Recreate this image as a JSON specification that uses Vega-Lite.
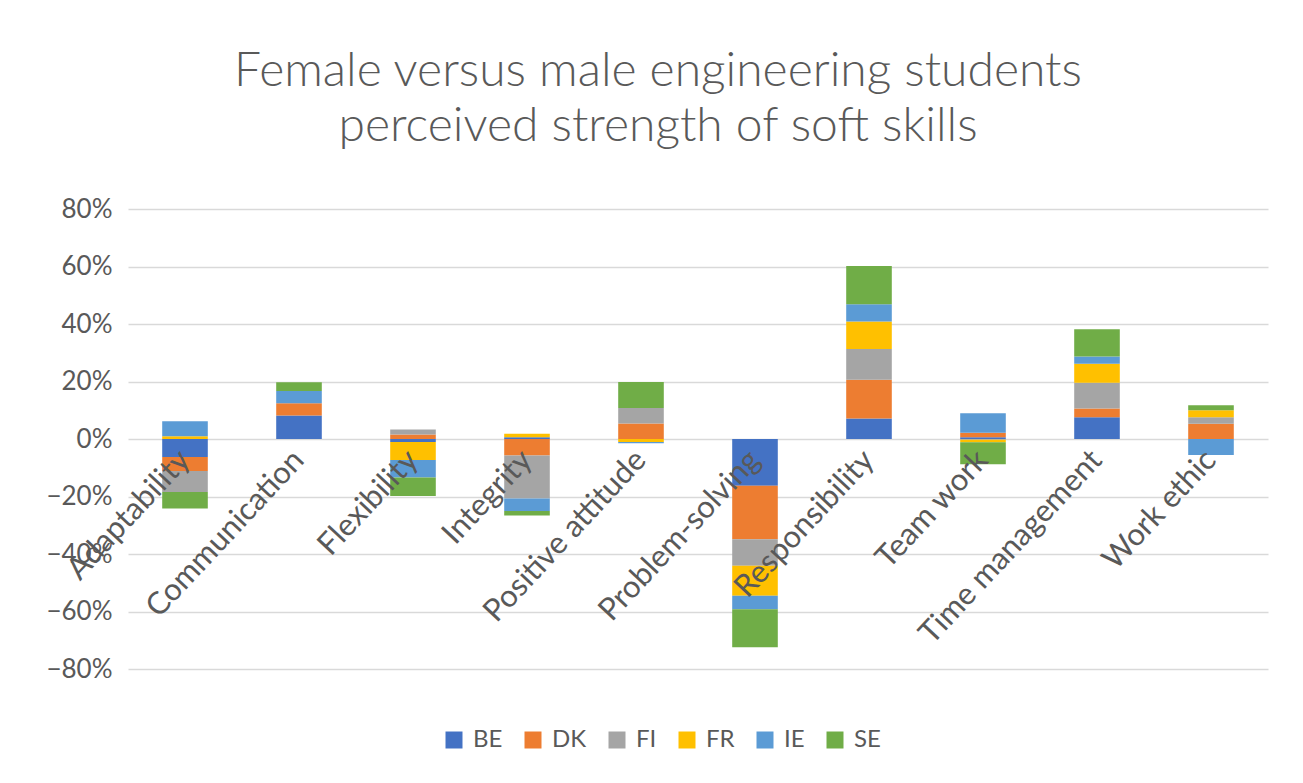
{
  "$schema": "https://vega.github.io/schema/vega-lite/v6.json",
  "autosize": "none",
  "width": 1140,
  "height": 460,
  "padding": {"left": 128, "top": 209, "right": 35, "bottom": 114},
  "background": "white",
  "title": {
    "text": ["Female versus male engineering students", "perceived strength of soft skills"],
    "font": "Lato",
    "fontSize": 48,
    "fontWeight": 300,
    "color": "#595959",
    "lineHeight": 55,
    "anchor": "middle",
    "dx": -40,
    "offset": 45
  },
  "data": {
    "values": [
      {"skill": "Adaptability", "country": "BE", "value": -0.063},
      {"skill": "Adaptability", "country": "DK", "value": -0.048},
      {"skill": "Adaptability", "country": "FI", "value": -0.073},
      {"skill": "Adaptability", "country": "FR", "value": 0.010},
      {"skill": "Adaptability", "country": "IE", "value": 0.052},
      {"skill": "Adaptability", "country": "SE", "value": -0.058},
      {"skill": "Communication", "country": "BE", "value": 0.082},
      {"skill": "Communication", "country": "DK", "value": 0.042},
      {"skill": "Communication", "country": "IE", "value": 0.043},
      {"skill": "Communication", "country": "SE", "value": 0.030},
      {"skill": "Flexibility", "country": "BE", "value": -0.010},
      {"skill": "Flexibility", "country": "DK", "value": 0.016},
      {"skill": "Flexibility", "country": "FI", "value": 0.017},
      {"skill": "Flexibility", "country": "FR", "value": -0.063},
      {"skill": "Flexibility", "country": "IE", "value": -0.061},
      {"skill": "Flexibility", "country": "SE", "value": -0.064},
      {"skill": "Integrity", "country": "BE", "value": 0.006},
      {"skill": "Integrity", "country": "DK", "value": -0.057},
      {"skill": "Integrity", "country": "FI", "value": -0.150},
      {"skill": "Integrity", "country": "FR", "value": 0.012},
      {"skill": "Integrity", "country": "IE", "value": -0.043},
      {"skill": "Integrity", "country": "SE", "value": -0.016},
      {"skill": "Positive attitude", "country": "DK", "value": 0.054},
      {"skill": "Positive attitude", "country": "FI", "value": 0.054},
      {"skill": "Positive attitude", "country": "FR", "value": -0.010},
      {"skill": "Positive attitude", "country": "IE", "value": -0.005},
      {"skill": "Positive attitude", "country": "SE", "value": 0.090},
      {"skill": "Problem-solving", "country": "BE", "value": -0.163},
      {"skill": "Problem-solving", "country": "DK", "value": -0.186},
      {"skill": "Problem-solving", "country": "FI", "value": -0.092},
      {"skill": "Problem-solving", "country": "FR", "value": -0.104},
      {"skill": "Problem-solving", "country": "IE", "value": -0.047},
      {"skill": "Problem-solving", "country": "SE", "value": -0.132},
      {"skill": "Responsibility", "country": "BE", "value": 0.071},
      {"skill": "Responsibility", "country": "DK", "value": 0.135},
      {"skill": "Responsibility", "country": "FI", "value": 0.107},
      {"skill": "Responsibility", "country": "FR", "value": 0.096},
      {"skill": "Responsibility", "country": "IE", "value": 0.060},
      {"skill": "Responsibility", "country": "SE", "value": 0.133},
      {"skill": "Team work", "country": "BE", "value": 0.006},
      {"skill": "Team work", "country": "DK", "value": 0.016},
      {"skill": "Team work", "country": "FI", "value": -0.003},
      {"skill": "Team work", "country": "FR", "value": -0.008},
      {"skill": "Team work", "country": "IE", "value": 0.068},
      {"skill": "Team work", "country": "SE", "value": -0.077},
      {"skill": "Time management", "country": "BE", "value": 0.076},
      {"skill": "Time management", "country": "DK", "value": 0.030},
      {"skill": "Time management", "country": "FI", "value": 0.090},
      {"skill": "Time management", "country": "FR", "value": 0.066},
      {"skill": "Time management", "country": "IE", "value": 0.025},
      {"skill": "Time management", "country": "SE", "value": 0.095},
      {"skill": "Work ethic", "country": "DK", "value": 0.053},
      {"skill": "Work ethic", "country": "FI", "value": 0.023},
      {"skill": "Work ethic", "country": "FR", "value": 0.024},
      {"skill": "Work ethic", "country": "IE", "value": -0.056},
      {"skill": "Work ethic", "country": "SE", "value": 0.017}
    ]
  },
  "mark": {"type": "bar"},
  "encoding": {
    "x": {
      "field": "skill",
      "type": "nominal",
      "sort": null,
      "scale": {"paddingInner": 0.6, "paddingOuter": 0.3},
      "axis": {
        "title": null,
        "orient": "bottom",
        "offset": -230,
        "zindex": 1,
        "domain": false,
        "ticks": false,
        "labelAngle": -47,
        "labelAlign": "right",
        "labelBaseline": "middle",
        "labelPadding": 16,
        "labelLimit": 500,
        "labelFont": "Lato",
        "labelFontSize": 31,
        "labelColor": "#595959",
        "grid": false
      }
    },
    "y": {
      "field": "value",
      "type": "quantitative",
      "stack": "zero",
      "scale": {"domain": [-0.8, 0.8], "nice": false},
      "axis": {
        "title": null,
        "format": ".0%",
        "values": [-0.8, -0.6, -0.4, -0.2, 0, 0.2, 0.4, 0.6, 0.8],
        "domain": false,
        "ticks": false,
        "labelPadding": 16,
        "labelFont": "Lato",
        "labelFontSize": 26,
        "labelColor": "#595959",
        "gridColor": "#d9d9d9",
        "gridWidth": 1.5
      }
    },
    "color": {
      "field": "country",
      "type": "nominal",
      "scale": {
        "domain": ["BE", "DK", "FI", "FR", "IE", "SE"],
        "range": ["#4472C4", "#ED7D31", "#A5A5A5", "#FFC000", "#5B9BD5", "#70AD47"]
      },
      "legend": {
        "title": null,
        "orient": "none",
        "direction": "horizontal",
        "legendX": 314,
        "legendY": 519,
        "symbolType": "square",
        "symbolSize": 289,
        "symbolStrokeWidth": 0,
        "labelFont": "Lato",
        "labelFontSize": 24,
        "labelColor": "#595959",
        "labelOffset": 7,
        "columnPadding": 18
      }
    },
    "order": {"field": "country", "sort": "ascending"}
  },
  "config": {
    "view": {"stroke": null}
  }
}
